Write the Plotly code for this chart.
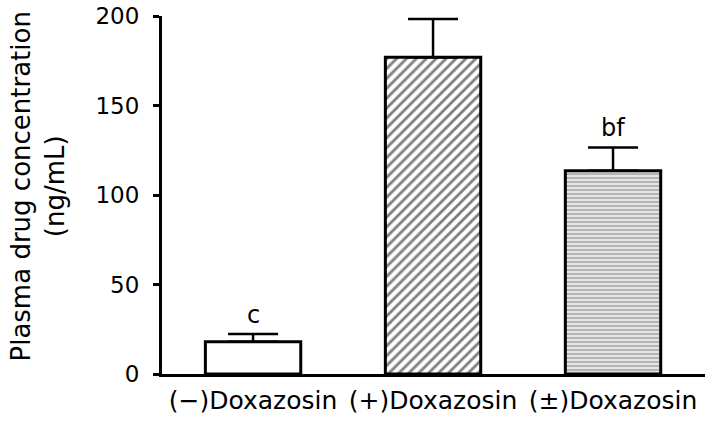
import plotly.graph_objects as go

categories = ["(\u2212)Doxazosin", "(+)Doxazosin", "(\u00b1)Doxazosin"]
means = [18.0, 177.0, 113.6]
sem_up = [4.3, 21.3, 13.0]
sig_labels = ["c", "", "bf"]
y_ticks = [0, 50, 100, 150, 200]
y_title = "Plasma drug concentration<br>(ng/mL)"

FONT = "DejaVu Sans"

fig = go.Figure()
patterns = [
    dict(shape=""),
    dict(shape="/", fgcolor="black", bgcolor="white", size=7, solidity=0.4),
    dict(shape="-", fgcolor="#858585", bgcolor="#e4e4e4", size=4, solidity=0.5),
]
for i, c in enumerate(categories):
    fig.add_trace(go.Bar(
        x=[c], y=[means[i]],
        width=0.53,
        marker=dict(color="white", line=dict(color="black", width=3), pattern=patterns[i]),
        error_y=dict(type="data", array=[sem_up[i]], arrayminus=[0], symmetric=False,
                     color="black", thickness=2.5, width=25),
        showlegend=False,
    ))

for i, lab in enumerate(sig_labels):
    if lab:
        fig.add_annotation(x=categories[i], y=means[i] + sem_up[i], yshift=3,
                           text=lab, showarrow=False, yanchor="bottom",
                           font=dict(family=FONT, size=24, color="black"))

# y-axis title placed as rotated annotation for precise position
fig.add_annotation(xref="paper", yref="paper", x=0, y=0.5237, xshift=-124,
                   text=y_title, textangle=-90, showarrow=False,
                   xanchor="center", yanchor="middle", align="center",
                   font=dict(family=FONT, size=26, color="black"))

fig.update_layout(
    width=714, height=424,
    margin=dict(l=162, r=9, t=16, b=50),
    plot_bgcolor="white", paper_bgcolor="white",
    font=dict(family=FONT, size=24, color="black"),
    barmode="overlay",
)
fig.update_xaxes(
    type="category", range=[-0.506, 2.511], automargin=False,
    showline=True, linecolor="black", linewidth=3,
    ticks="", showgrid=False, zeroline=False,
    ticklabelstandoff=2, ticklabeloverflow="allow",
    tickfont=dict(family=FONT, size=25),
)
fig.update_yaxes(
    range=[0, 200], tickvals=y_ticks, automargin=False,
    showline=True, linecolor="black", linewidth=3,
    ticks="outside", ticklen=6, tickwidth=3, tickcolor="black",
    ticklabelstandoff=9, ticklabeloverflow="allow",
    showgrid=False, zeroline=False,
    tickfont=dict(family=FONT, size=23),
)

fig.write_html("out.html", config={"displayModeBar": False},
               post_script="document.body.style.margin='0px';")
